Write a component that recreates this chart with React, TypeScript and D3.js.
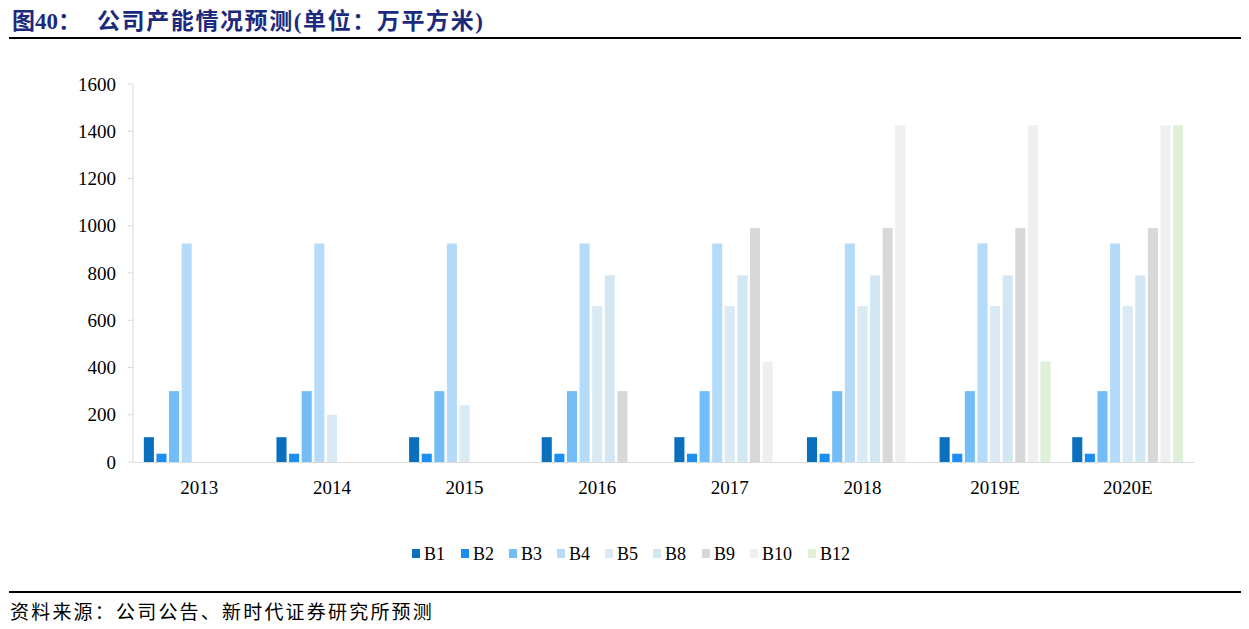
import React from "react";
import * as d3 from "d3";

const categories = ["2013", "2014", "2015", "2016", "2017", "2018", "2019E", "2020E"];
const seriesNames = ["B1", "B2", "B3", "B4", "B5", "B8", "B9", "B10", "B12"];
const seriesColors = ["#0a6fbd", "#1b8ef2", "#72bdf8", "#b5dbfb", "#d9eaf5", "#d3e7f2", "#d8d8d8", "#efefef", "#e0efd8"];
const B1 = [105, 105, 105, 105, 105, 105, 105, 105];
const B2 = [35, 35, 35, 35, 35, 35, 35, 35];
const B3 = [300, 300, 300, 300, 300, 300, 300, 300];
const B4 = [925, 925, 925, 925, 925, 925, 925, 925];
const B5 = [0, 200, 240, 660, 660, 660, 660, 660];
const B8 = [0, 0, 0, 790, 790, 790, 790, 790];
const B9 = [0, 0, 0, 300, 990, 990, 990, 990];
const B10 = [0, 0, 0, 0, 425, 1425, 1425, 1425];
const B12 = [0, 0, 0, 0, 0, 0, 425, 1425];
const seriesValues = [B1, B2, B3, B4, B5, B8, B9, B10, B12];
const yTicks = [0, 200, 400, 600, 800, 1000, 1200, 1400, 1600];

const serif = "'Liberation Serif', 'Times New Roman', 'Noto Sans CJK SC', serif";

export default function App() {
  const W = 1249, H = 629;
  const left = 133, right = 1194, top = 84, bottom = 462;
  const x = d3.scaleBand().domain(categories).range([left, right]).padding(0);
  const xi = d3.scaleBand().domain(seriesNames).range([0, x.bandwidth()]).paddingInner(0.2).paddingOuter(0.86);
  const y = d3.scaleLinear().domain([0, 1600]).range([bottom, top]);

  const legendX = [412, 461, 509, 557, 605, 653, 702, 750, 808];

  return (
    <svg width={W} height={H} style={{ position: "absolute", left: 0, top: 0, background: "#fff" }}>
      <text x={12} y={29} fontFamily={serif} fontWeight="bold" fontSize={23} fill="#1b2a7c">图40：</text>
      <text x={97} y={29} fontFamily={serif} fontWeight="bold" fontSize={23} letterSpacing={1.6} fill="#1b2a7c">公司产能情况预测(单位：万平方米)</text>
      <line x1={9} x2={1241} y1={38} y2={38} stroke="#000" strokeWidth={2} />

      {/* y axis */}
      <line x1={left} x2={left} y1={top} y2={bottom} stroke="#d9d9d9" strokeWidth={1} />
      {yTicks.map((t) => (
        <g key={t}>
          <line x1={left - 5} x2={left} y1={y(t)} y2={y(t)} stroke="#d9d9d9" />
          <text x={116} y={y(t)} dy="0.35em" textAnchor="end" fontFamily={serif} fontSize={19} fill="#000">{t}</text>
        </g>
      ))}
      {/* bars */}
      {seriesValues.map((vals, si) => (
        <g key={seriesNames[si]} fill={seriesColors[si]}>
          {vals.map((v, ci) =>
            v > 0 ? (
              <rect key={ci} x={(x(categories[ci]) as number) + (xi(seriesNames[si]) as number)} y={y(v)} width={xi.bandwidth()} height={y(0) - y(v)} />
            ) : null
          )}
        </g>
      ))}
      <line x1={left} x2={right} y1={bottom + 0.5} y2={bottom + 0.5} stroke="#d9d9d9" strokeWidth={1} />
      {categories.map((c) => (
        <text key={c} x={(x(c) as number) + x.bandwidth() / 2} y={494} textAnchor="middle" fontFamily={serif} fontSize={19} fill="#000">{c}</text>
      ))}

      {/* legend */}
      {seriesNames.map((s, i) => (
        <g key={s}>
          <rect x={legendX[i]} y={549} width={8} height={9} fill={seriesColors[i]} />
          <text x={legendX[i] + 12} y={560} fontFamily={serif} fontSize={18} fill="#000">{s}</text>
        </g>
      ))}

      <line x1={9} x2={1241} y1={592} y2={592} stroke="#000" strokeWidth={2} />
      <text x={10} y={619} fontFamily="'Noto Sans CJK SC', sans-serif" fontSize={19} letterSpacing={2.2} fill="#000">资料来源：公司公告、新时代证券研究所预测</text>
    </svg>
  );
}
